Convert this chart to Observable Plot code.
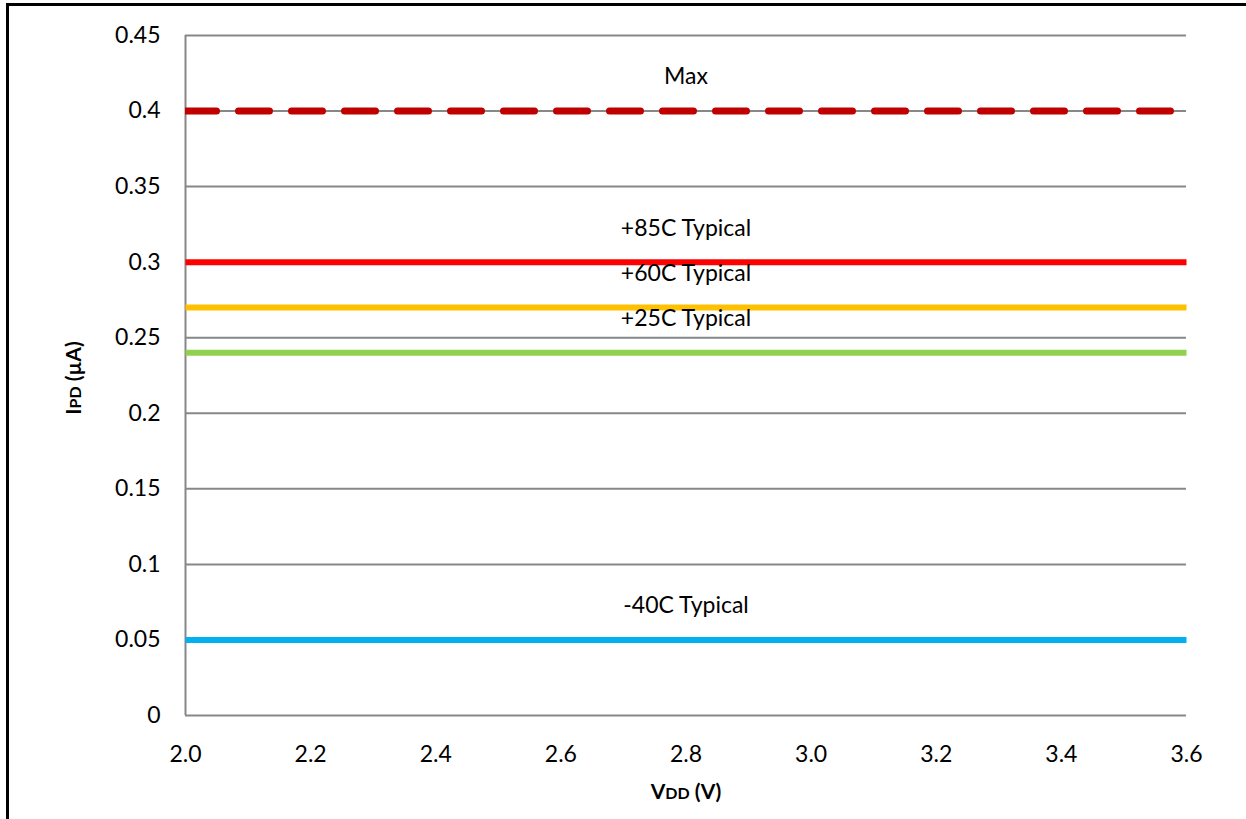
<!DOCTYPE html>
<html><head><meta charset="utf-8">
<script src="https://cdn.jsdelivr.net/npm/d3@7"></script>
<script src="https://cdn.jsdelivr.net/npm/@observablehq/plot@0.6"></script>
<style>
body{margin:0;background:#fff;}
#wrap{position:relative;width:1246px;height:819px;overflow:hidden;background:#fff;}
#frame{position:absolute;left:6px;top:3px;width:1400px;height:1000px;border-left:3px solid #000;border-top:3px solid #000;pointer-events:none;}
#wrap svg{position:absolute;left:0;top:0;}
</style></head><body><div id="wrap"><div id="frame"></div></div>
<script>
// ---- data ----
const vdd = [2.0, 2.2, 2.4, 2.6, 2.8, 3.0, 3.2, 3.4, 3.6];
const seriesNames = ["Max", "+85C Typical", "+60C Typical", "+25C Typical", "-40C Typical"];
const ipdMax  = [0.40, 0.40, 0.40, 0.40, 0.40, 0.40, 0.40, 0.40, 0.40];
const ipd85C  = [0.30, 0.30, 0.30, 0.30, 0.30, 0.30, 0.30, 0.30, 0.30];
const ipd60C  = [0.27, 0.27, 0.27, 0.27, 0.27, 0.27, 0.27, 0.27, 0.27];
const ipd25C  = [0.24, 0.24, 0.24, 0.24, 0.24, 0.24, 0.24, 0.24, 0.24];
const ipdM40C = [0.05, 0.05, 0.05, 0.05, 0.05, 0.05, 0.05, 0.05, 0.05];
const seriesValues = [ipdMax, ipd85C, ipd60C, ipd25C, ipdM40C];
const xTicks = [2.0, 2.2, 2.4, 2.6, 2.8, 3.0, 3.2, 3.4, 3.6];
const yTicks = [0, 0.05, 0.1, 0.15, 0.2, 0.25, 0.3, 0.35, 0.4, 0.45];
const labelVdd = 2.8;

// ---- styles ----
const seriesStyle = [
  {stroke: "#C00000", strokeWidth: 7, dash: "31,22", cap: "round", clip: true},
  {stroke: "#FF0000", strokeWidth: 6},
  {stroke: "#FFC000", strokeWidth: 6},
  {stroke: "#92D050", strokeWidth: 6},
  {stroke: "#00B0F0", strokeWidth: 6}
];
const gridColor = "#878787";
const font = "Lato, 'Open Sans', sans-serif";

const rows = seriesNames.map((name, i) => vdd.map((v, j) => ({series: name, v, ipd: seriesValues[i][j]})));
const labels = seriesNames.map((name, i) => ({name, v: labelVdd, ipd: seriesValues[i][4]}));

const lineMarks = rows.map((r, i) => Plot.line(r, {
  x: "v", y: "ipd",
  stroke: seriesStyle[i].stroke,
  strokeWidth: seriesStyle[i].strokeWidth,
  strokeDasharray: seriesStyle[i].dash,
  strokeLinecap: seriesStyle[i].cap || "butt",
  clip: !!seriesStyle[i].clip
}));

const plot = Plot.plot({
  width: 1246, height: 819,
  marginLeft: 185, marginRight: 60, marginTop: 35, marginBottom: 104,
  style: {fontFamily: font, fontSize: "23px", color: "#000", background: "transparent", overflow: "visible"},
  x: {domain: [2.0, 3.6]},
  y: {domain: [0, 0.45]},
  marks: [
    Plot.ruleY(yTicks, {stroke: gridColor, strokeWidth: 2}),
    Plot.ruleX([2.0], {y1: 0, y2: 0.45, stroke: gridColor, strokeWidth: 2}),
    Plot.axisX({ticks: xTicks, tickFormat: d3.format(".1f"), tickSize: 0, tickPadding: 30, label: null, fontSize: 23}),
    Plot.axisY({ticks: yTicks, tickFormat: d => String(+d.toFixed(2)), tickSize: 0, tickPadding: 25, label: null, fontSize: 23}),
    ...lineMarks,
    Plot.text(labels, {x: "v", y: "ipd", text: "name", dy: -34, fontSize: 23, fill: "#000"})
  ]
});
document.getElementById("wrap").appendChild(plot);

// axis titles with subscript-like small caps
const svg = d3.select(plot);
const xt = svg.append("text").attr("x", 686).attr("y", 799).attr("text-anchor", "middle")
  .attr("font-family", font).attr("font-weight", "bold").attr("font-size", 21).attr("fill", "#000");
xt.append("tspan").text("V");
xt.append("tspan").attr("font-size", 16).text("DD");
xt.append("tspan").text(" (V)");

const yt = svg.append("text").attr("transform", "translate(81,378) rotate(-90)").attr("text-anchor", "middle")
  .attr("font-family", font).attr("font-weight", "bold").attr("font-size", 21).attr("fill", "#000");
yt.append("tspan").text("I");
yt.append("tspan").attr("font-size", 16).text("PD");
yt.append("tspan").text(" (µA)");
</script></body></html>
